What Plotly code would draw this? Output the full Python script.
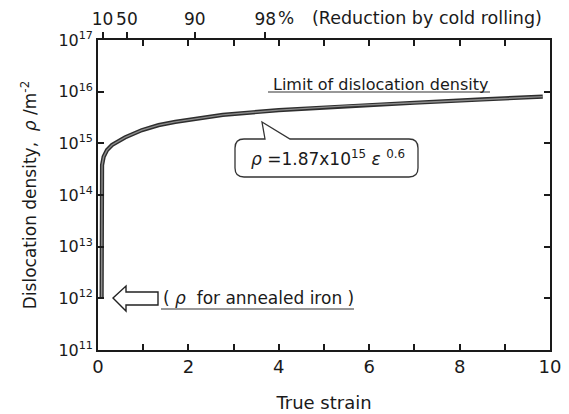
import plotly.graph_objects as go

# ---- data ----
strain = [0.08, 0.08, 0.09, 0.125, 0.2, 0.31, 0.46, 0.6, 0.97, 1.34, 1.71, 2.3, 2.76, 4.0, 5.5, 7.0, 8.5, 9.84]
density = [1.0e12, 3.0e14, 3.8e14, 5.5e14, 7.4e14, 9.3e14, 1.1e15, 1.3e15, 1.8e15, 2.25e15,
           2.6e15, 3.15e15, 3.55e15, 4.4e15, 5.3e15, 6.1e15, 7.1e15, 8.0e15]

x_major = [0, 2, 4, 6, 8, 10]
x_minor = [1, 3, 5, 7, 9]
y_exps = [11, 12, 13, 14, 15, 16, 17]
y_ticks = [10.0 ** e for e in y_exps]
y_ticktext = ["10<sup>%d</sup>" % e for e in y_exps]

reduction_strain = [0.10, 0.64, 2.14, 3.70]
reduction_labels = ["10", "50", "90", "98"]

# ---- layout geometry (pixels); page body has an 8px default margin ----
OFF = 8
W, H = 569 - OFF, 414 - OFF
L, R, T, B = 90, 19, 32, 64
PW, PH = W - L - R, H - T - B
FONT = "DejaVu Sans, Verdana, sans-serif"
INK = "#1a1a1a"


def fx(px):
    return (px - OFF - L) / PW


def fy(py):
    return (H - B - (py - OFF)) / PH


fig = go.Figure()

# curve drawn as a dark thick line with a lighter core
fig.add_trace(go.Scatter(x=strain, y=density, mode="lines",
                         line=dict(color="#2e2e2e", width=4.2),
                         hoverinfo="skip", showlegend=False))
fig.add_trace(go.Scatter(x=strain, y=density, mode="lines",
                         line=dict(color="#8c8c8c", width=1.4),
                         hoverinfo="skip", showlegend=False))
# invisible trace to keep the top axis alive
fig.add_trace(go.Scatter(x=[0, 10], y=[1e11, 1e11], xaxis="x2", mode="markers",
                         marker=dict(opacity=0), hoverinfo="skip", showlegend=False))

tick_font = dict(family=FONT, size=18, color=INK)

fig.update_layout(
    width=W, height=H,
    margin=dict(l=L, r=R, t=T, b=B),
    paper_bgcolor="white", plot_bgcolor="white",
    font=dict(family=FONT, size=17, color=INK),
    xaxis=dict(range=[0, 10], tickvals=x_major, ticktext=[str(v) for v in x_major],
               ticks="inside", ticklen=6, tickwidth=1.5, tickcolor=INK,
               minor=dict(tickvals=x_minor, ticks="inside", ticklen=6, tickwidth=1.5,
                          tickcolor=INK, showgrid=False),
               showline=True, linecolor=INK, linewidth=1.6, mirror="ticks",
               showgrid=False, zeroline=False, tickfont=tick_font, automargin=False,
               title=dict(text="True strain", font=dict(family=FONT, size=18, color=INK),
                          standoff=20)),
    xaxis2=dict(range=[0, 10], overlaying="x", side="top", anchor="y",
                tickvals=reduction_strain, ticktext=reduction_labels,
                ticks="outside", ticklen=7, tickwidth=1.5, tickcolor=INK,
                showline=False, showgrid=False, zeroline=False, automargin=False,
                tickfont=dict(family=FONT, size=17, color=INK)),
    yaxis=dict(type="log", range=[11, 17], tickvals=y_ticks, ticktext=y_ticktext,
               ticks="inside", ticklen=6, tickwidth=1.5, tickcolor=INK,
               showline=True, linecolor=INK, linewidth=1.6, mirror="ticks",
               showgrid=False, zeroline=False, automargin=False,
               tickfont=dict(family=FONT, size=16, color=INK),
               title=dict(text="Dislocation density,  <i>ρ</i> /m<sup>-2</sup>",
                          font=dict(family=FONT, size=17, color=INK), standoff=17)),
)

# "%" after 98 and the reduction caption
fig.add_annotation(x=fx(276), y=fy(18), xref="paper", yref="paper", text="%",
                   showarrow=False, xanchor="left", yanchor="middle",
                   font=dict(family=FONT, size=17, color=INK))
fig.add_annotation(x=fx(310), y=fy(18), xref="paper", yref="paper",
                   text="(Reduction by cold rolling)",
                   showarrow=False, xanchor="left", yanchor="middle",
                   font=dict(family=FONT, size=17.5, color=INK))

# Limit of dislocation density
fig.add_annotation(x=fx(380), y=fy(84), xref="paper", yref="paper",
                   text="Limit of dislocation density", showarrow=False,
                   xanchor="center", yanchor="middle",
                   font=dict(family=FONT, size=16, color=INK))
fig.add_shape(type="line", xref="paper", yref="paper",
              x0=fx(268), x1=fx(490), y0=fy(92), y1=fy(92),
              line=dict(color="#333", width=1.2))

# annealed iron label
fig.add_annotation(x=fx(161), y=fy(298), xref="paper", yref="paper",
                   text="( <i>ρ</i>  for annealed iron )", showarrow=False,
                   xanchor="left", yanchor="middle",
                   font=dict(family=FONT, size=17, color=INK))
fig.add_shape(type="line", xref="paper", yref="paper",
              x0=fx(161), x1=fx(354), y0=fy(309), y1=fy(309),
              line=dict(color="#333", width=1.2))

# hollow arrow
arrow_pts = [(113, 298), (126, 286), (126, 292), (158, 292), (158, 305),
             (126, 305), (126, 311)]
path = "M " + " L ".join("%.5f,%.5f" % (fx(a), fy(b)) for a, b in arrow_pts) + " Z"
fig.add_shape(type="path", xref="paper", yref="paper", path=path,
              fillcolor="white", line=dict(color="#222", width=1.4))

# callout box
r = 9
segs = [("M", 235 + r, 139), ("L", 265, 139), ("L", 262, 122), ("L", 290, 139),
        ("L", 418 - r, 139), ("Q", 418, 139, 418, 139 + r), ("L", 418, 177 - r),
        ("Q", 418, 177, 418 - r, 177), ("L", 235 + r, 177), ("Q", 235, 177, 235, 177 - r),
        ("L", 235, 139 + r), ("Q", 235, 139, 235 + r, 139)]
parts = []
for s in segs:
    if s[0] == "Q":
        parts.append("Q %.5f,%.5f %.5f,%.5f" % (fx(s[1]), fy(s[2]), fx(s[3]), fy(s[4])))
    else:
        parts.append("%s %.5f,%.5f" % (s[0], fx(s[1]), fy(s[2])))
fig.add_shape(type="path", xref="paper", yref="paper", path=" ".join(parts) + " Z",
              fillcolor="white", line=dict(color="#333", width=1.3))
fig.add_annotation(x=fx(328), y=fy(158), xref="paper", yref="paper",
                   text="<i>ρ</i> =1.87x10<sup>15</sup> <i>ε</i> <sup>0.6</sup>",
                   showarrow=False, xanchor="center", yanchor="middle",
                   font=dict(family=FONT, size=17, color=INK))

fig.write_html("out.html")
